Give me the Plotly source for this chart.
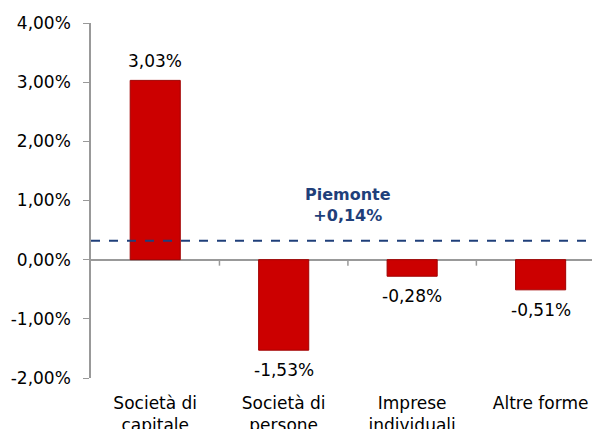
import plotly.graph_objects as go

categories = ["Società di<br>capitale", "Società di<br>persone", "Imprese<br>individuali", "Altre forme"]
values = [3.03, -1.53, -0.28, -0.51]
piemonte_label = "Piemonte<br>+0,14%"
piemonte_line_y = 0.32
ytick_vals = [-2, -1, 0, 1, 2, 3, 4]
ytick_text = ["-2,00%", "-1,00%", "0,00%", "1,00%", "2,00%", "3,00%", "4,00%"]

bar_text = [f"{v:.2f}%".replace(".", ",") for v in values]

FONT = "Verdana, DejaVu Sans, sans-serif"
FS = 17

fig = go.Figure()
fig.add_trace(go.Bar(
    x=categories, y=values, width=0.39,
    marker=dict(color="#CC0000", line=dict(color="#A00000", width=1)),
))

for c, v, t in zip(categories, values, bar_text):
    fig.add_annotation(x=c, y=v, xref="x", yref="y", text=t, showarrow=False,
                       yshift=19 if v >= 0 else -20,
                       font=dict(family=FONT, size=FS, color="#000000"))

fig.add_shape(type="line", xref="paper", x0=0, x1=1, yref="y",
              y0=piemonte_line_y, y1=piemonte_line_y,
              line=dict(color="#1F3F7A", width=2, dash="dash"))
fig.add_annotation(x=1.5, y=piemonte_line_y, xref="x", yref="y",
                   text=piemonte_label, showarrow=False, yshift=36,
                   font=dict(family=FONT, size=16, color="#1F3F7A", weight="bold"),
                   align="center")

# category boundary tick marks on the zero line
for b in [0.5, 1.5, 2.5]:
    fig.add_shape(type="line", xref="x", x0=b, x1=b, yref="y",
                  ysizemode="pixel", yanchor=0, y0=0, y1=-6,
                  line=dict(color="#999999", width=1.5))

fig.update_layout(
    width=592, height=429,
    margin=dict(l=91, r=0, t=23, b=51),
    paper_bgcolor="white", plot_bgcolor="white",
    showlegend=False,
    font=dict(family=FONT, size=FS, color="#000000"),
)
fig.update_xaxes(range=[-0.5, 3.4], showgrid=False, showline=False, automargin=False,
                 ticks="", tickfont=dict(size=FS), ticklabelstandoff=13)
fig.update_yaxes(range=[-2, 4], tickvals=ytick_vals, ticktext=ytick_text,
                 showgrid=False, showline=True, linecolor="#999999", linewidth=1.5,
                 ticks="outside", ticklen=6, tickcolor="#999999", automargin=False,
                 zeroline=True, zerolinecolor="#999999", zerolinewidth=1.5,
                 tickfont=dict(size=FS), ticklabelstandoff=9)

fig.write_html("out.html", config={"displayModeBar": False},
               post_script="document.body.style.margin='0';document.body.style.overflow='hidden';")
